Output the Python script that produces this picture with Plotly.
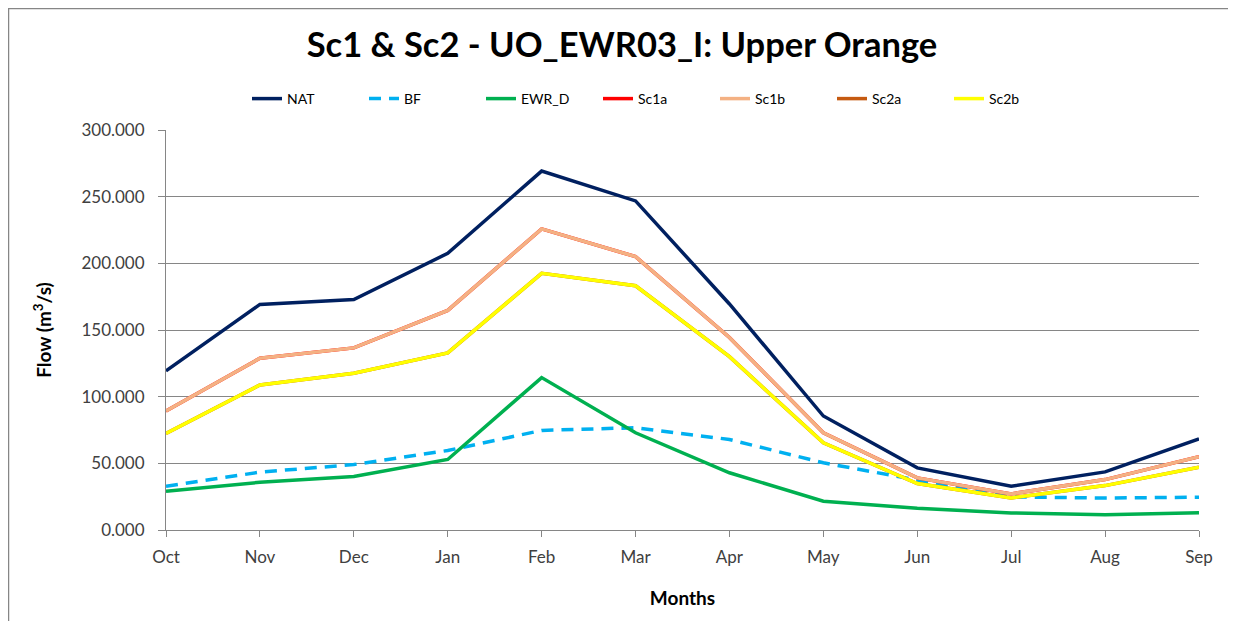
import plotly.graph_objects as go

months = ["Oct", "Nov", "Dec", "Jan", "Feb", "Mar", "Apr", "May", "Jun", "Jul", "Aug", "Sep"]
nat   = [119.3, 169.2, 172.9, 207.5, 269.2, 246.8, 169.5, 85.5, 46.6, 32.8, 43.6, 68.4]
bf    = [32.8, 43.4, 49.1, 59.6, 74.7, 76.7, 67.9, 50.4, 37.5, 24.8, 24.0, 24.6]
ewr_d = [29.1, 35.8, 40.1, 52.9, 114.3, 72.9, 42.9, 21.6, 16.3, 12.8, 11.5, 13.0]
sc1a  = [89.2, 128.8, 136.6, 164.7, 225.8, 205.0, 144.4, 72.9, 39.1, 27.1, 37.8, 54.9]
sc1b  = [89.2, 128.8, 136.6, 164.7, 225.8, 205.0, 144.4, 72.9, 39.1, 27.1, 37.8, 54.9]
sc2a  = [72.4, 108.8, 117.5, 132.8, 192.5, 183.2, 130.0, 65.4, 34.8, 24.1, 33.3, 47.1]
sc2b  = [72.4, 108.8, 117.5, 132.8, 192.5, 183.2, 130.0, 65.4, 34.8, 24.1, 33.3, 47.1]

series = [
    ("NAT", nat, "#002060", "solid"),
    ("BF", bf, "#00B0F0", "dash"),
    ("EWR_D", ewr_d, "#00B050", "solid"),
    ("Sc1a", sc1a, "#FF0000", "solid"),
    ("Sc1b", sc1b, "#F4B183", "solid"),
    ("Sc2a", sc2a, "#C55A11", "solid"),
    ("Sc2b", sc2b, "#FFFF00", "solid"),
]

FONT = "Lato"
# page body has an 8px margin, so the figure is sized to fit the window
W, H = 1228, 613
L, R, T, B = 158, 37, 122, 91

fig = go.Figure()
for name, vals, color, dash in series:
    fig.add_trace(go.Scatter(
        x=months, y=vals, name=name, mode="lines",
        line=dict(color=color, width=3.5, dash="12px,8px" if dash == "dash" else "solid"),
    ))

fig.update_layout(
    width=W, height=H,
    margin=dict(l=L, r=R, t=T, b=B, autoexpand=False),
    paper_bgcolor="white", plot_bgcolor="white",
    font=dict(family=FONT, color="#404040"),
    title=dict(text="<b>Sc1 & Sc2 - UO_EWR03_I: Upper Orange</b>",
               x=(622 - 8) / W, xref="container", xanchor="center",
               y=1 - 37 / H, yref="container", yanchor="middle",
               font=dict(family=FONT, size=34.5, color="#000000")),
    legend=dict(orientation="h", x=239 / W, xref="container", xanchor="left",
                y=1 - 91 / H, yref="container", yanchor="middle",
                font=dict(family=FONT, size=14, color="#000000"),
                entrywidth=72, entrywidthmode="pixels", itemwidth=30,
                bgcolor="rgba(0,0,0,0)"),
    showlegend=True,
)

fig.update_xaxes(
    type="category", range=[0, 11],
    showline=True, linecolor="#868686", linewidth=1,
    ticks="outside", ticklen=6, tickcolor="#868686",
    ticklabelstandoff=6,
    showgrid=False,
    tickfont=dict(family=FONT, size=17, color="#404040"),
    title=dict(text="<b>Months</b>", font=dict(family=FONT, size=19, color="#000000"), standoff=25),
)
fig.update_yaxes(
    range=[0, 300], dtick=50, tickformat=".3f",
    showline=True, linecolor="#868686", linewidth=1,
    ticks="outside", ticklen=7, tickcolor="#868686",
    ticklabelstandoff=10,
    showgrid=True, gridcolor="#868686", gridwidth=1,
    zeroline=False,
    tickfont=dict(family=FONT, size=17, color="#404040"),
    title=dict(text="<b>Flow (m<sup>3</sup>/s)</b>", font=dict(family=FONT, size=19, color="#000000"), standoff=24),
)

# chart-area border (left and top edges visible)
pw, ph = W - L - R, H - T - B
fig.add_shape(type="line", xref="paper", yref="paper",
              x0=-(L - 0.5) / pw, x1=(W - L) / pw,
              y0=(ph + T - 0.5) / ph, y1=(ph + T - 0.5) / ph,
              line=dict(color="#868686", width=1.5))
fig.add_shape(type="line", xref="paper", yref="paper",
              x0=-(L - 0.5) / pw, x1=-(L - 0.5) / pw,
              y0=-B / ph, y1=(ph + T) / ph,
              line=dict(color="#868686", width=1.5))

fig.write_html("out.html")
